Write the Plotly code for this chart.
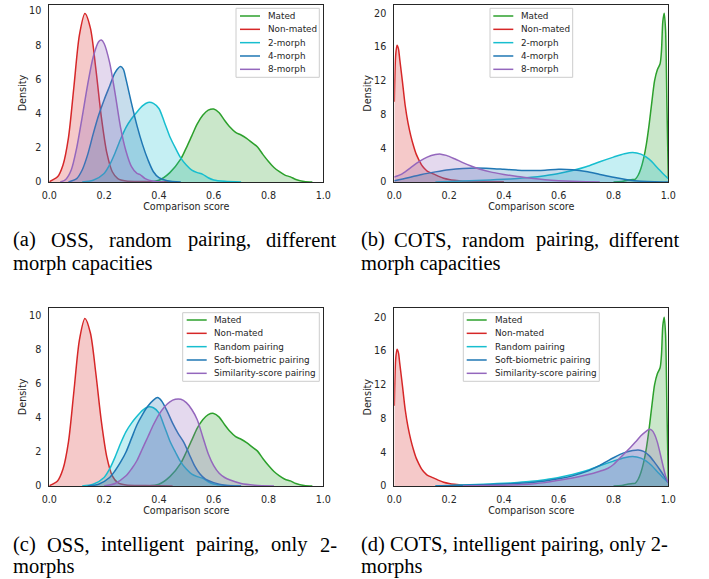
import plotly.graph_objects as go

W, H = 709, 579

# ---------------- data ----------------
score_ticks = [0.0, 0.2, 0.4, 0.6, 0.8, 1.0]
score_tick_labels = ["0.0", "0.2", "0.4", "0.6", "0.8", "1.0"]
oss_density_ticks = [0, 2, 4, 6, 8, 10]
cots_density_ticks = [0, 4, 8, 12, 16, 20]

names_capacity = ["Mated", "Non-mated", "2-morph", "4-morph", "8-morph"]
names_pairing = ["Mated", "Non-mated", "Random pairing", "Soft-biometric pairing", "Similarity-score pairing"]

# OSS comparator
oss_mated_x = [0.36, 0.40, 0.44, 0.48, 0.50, 0.52, 0.54, 0.56, 0.58, 0.60, 0.62, 0.64, 0.66, 0.68, 0.70,
               0.72, 0.74, 0.76, 0.78, 0.80, 0.82, 0.84, 0.86, 0.88, 0.90, 0.93, 0.96]
oss_mated_y = [0.0, 0.1, 0.55, 1.35, 2.0, 2.7, 3.4, 3.9, 4.2, 4.27, 4.05, 3.6, 3.2, 2.9, 2.75,
               2.55, 2.3, 2.05, 1.6, 1.2, 0.85, 0.6, 0.4, 0.3, 0.15, 0.03, 0.0]

oss_nonmated_x = [0.00, 0.03, 0.05, 0.07, 0.09, 0.11, 0.13, 0.15, 0.17, 0.19, 0.21, 0.23, 0.25, 0.28, 0.35, 0.45]
oss_nonmated_y = [0.02, 0.3, 1.0, 2.6, 5.6, 8.6, 9.85, 9.0, 6.6, 3.8, 1.7, 0.6, 0.2, 0.06, 0.03, 0.0]

oss_2morph_x = [0.12, 0.16, 0.20, 0.22, 0.24, 0.26, 0.28, 0.30, 0.32, 0.34, 0.36, 0.38, 0.40, 0.42, 0.44,
                0.46, 0.48, 0.50, 0.52, 0.54, 0.56, 0.58, 0.60, 0.64, 0.70]
oss_2morph_y = [0.0, 0.1, 0.5, 1.0, 1.7, 2.5, 3.2, 3.7, 4.1, 4.45, 4.65, 4.6, 4.3, 3.5, 2.65,
                2.0, 1.4, 1.0, 0.7, 0.55, 0.45, 0.25, 0.12, 0.04, 0.0]

oss_4morph_x = [0.07, 0.10, 0.12, 0.14, 0.16, 0.18, 0.20, 0.22, 0.24, 0.26, 0.27, 0.28, 0.30, 0.32, 0.34,
                0.36, 0.38, 0.40, 0.43, 0.48]
oss_4morph_y = [0.0, 0.2, 0.7, 1.6, 2.8, 3.9, 4.8, 5.6, 6.4, 6.75, 6.6, 6.0, 4.6, 3.3, 2.2,
                1.3, 0.6, 0.25, 0.07, 0.0]

oss_8morph_x = [0.04, 0.06, 0.08, 0.10, 0.12, 0.14, 0.16, 0.18, 0.19, 0.20, 0.22, 0.24, 0.26, 0.28, 0.30,
                0.32, 0.33, 0.35, 0.38, 0.42]
oss_8morph_y = [0.0, 0.15, 0.7, 2.0, 3.8, 5.7, 7.3, 8.2, 8.3, 8.1, 7.0, 5.2, 3.2, 1.8, 0.9,
                0.5, 0.45, 0.2, 0.05, 0.0]

oss_random_x = oss_2morph_x
oss_random_y = oss_2morph_y

oss_soft_x = [0.14, 0.18, 0.22, 0.24, 0.26, 0.28, 0.30, 0.32, 0.34, 0.36, 0.38, 0.395, 0.41, 0.43, 0.45,
              0.47, 0.49, 0.51, 0.53, 0.55, 0.57, 0.60, 0.64, 0.70]
oss_soft_y = [0.0, 0.1, 0.5, 0.9, 1.4, 2.0, 2.8, 3.6, 4.2, 4.7, 5.05, 5.2, 5.0, 4.4, 3.7,
              3.1, 2.6, 1.9, 1.2, 0.7, 0.4, 0.2, 0.05, 0.0]

oss_sim_x = [0.20, 0.24, 0.28, 0.30, 0.32, 0.34, 0.36, 0.38, 0.40, 0.42, 0.44, 0.46, 0.48, 0.50, 0.52,
             0.54, 0.56, 0.58, 0.60, 0.62, 0.64, 0.66, 0.70, 0.75, 0.82]
oss_sim_y = [0.0, 0.15, 0.6, 1.0, 1.5, 2.2, 2.9, 3.6, 4.2, 4.65, 4.95, 5.1, 5.1, 4.9, 4.5,
             3.9, 2.9, 1.9, 1.2, 0.75, 0.5, 0.35, 0.15, 0.05, 0.0]

# COTS comparator
cots_mated_x = [0.80, 0.83, 0.85, 0.87, 0.88, 0.89, 0.90, 0.91, 0.92, 0.93, 0.94, 0.95, 0.96, 0.97,
                0.975, 0.98, 0.985, 0.99, 0.995, 1.00]
cots_mated_y = [0.0, 0.05, 0.2, 0.3, 0.35, 0.8, 1.6, 2.8, 4.5, 6.8, 9.5, 12.0, 13.3, 14.0,
                15.5, 19.0, 20.0, 18.0, 9.0, 0.5]

cots_nonmated_x = [0.000, 0.005, 0.010, 0.015, 0.020, 0.030, 0.040, 0.050, 0.060, 0.070, 0.080, 0.090,
                   0.100, 0.110, 0.120, 0.140, 0.160, 0.180, 0.200, 0.220, 0.250, 0.300, 0.400]
cots_nonmated_y = [9.5, 15.0, 16.2, 15.8, 14.5, 11.8, 9.0, 7.0, 5.5, 4.3, 3.3, 2.6,
                   2.0, 1.6, 1.3, 1.0, 0.7, 0.45, 0.3, 0.2, 0.1, 0.05, 0.02]

cots_2morph_x = [0.15, 0.20, 0.25, 0.30, 0.35, 0.40, 0.45, 0.50, 0.55, 0.60, 0.65, 0.70, 0.75, 0.80,
                 0.84, 0.87, 0.90, 0.93, 0.96, 0.98, 1.00]
cots_2morph_y = [0.0, 0.05, 0.12, 0.18, 0.25, 0.32, 0.42, 0.55, 0.75, 1.0, 1.35, 1.8, 2.4, 2.95,
                 3.35, 3.5, 3.3, 2.7, 1.7, 1.0, 0.4]

cots_4morph_x = [0.00, 0.05, 0.10, 0.15, 0.20, 0.25, 0.30, 0.35, 0.40, 0.45, 0.50, 0.55, 0.60, 0.65,
                 0.70, 0.75, 0.80, 0.85, 0.90, 0.95, 1.00]
cots_4morph_y = [0.15, 0.5, 0.9, 1.2, 1.45, 1.6, 1.65, 1.6, 1.5, 1.4, 1.35, 1.4, 1.5, 1.45,
                 1.25, 0.9, 0.55, 0.28, 0.1, 0.02, 0.0]

cots_8morph_x = [0.00, 0.03, 0.06, 0.09, 0.12, 0.15, 0.17, 0.19, 0.22, 0.25, 0.28, 0.31, 0.35, 0.40,
                 0.45, 0.50, 0.55, 0.60, 0.65, 0.70, 0.75]
cots_8morph_y = [0.6, 1.0, 1.7, 2.4, 2.95, 3.25, 3.3, 3.15, 2.75, 2.3, 1.9, 1.55, 1.2, 0.9,
                 0.65, 0.45, 0.28, 0.16, 0.08, 0.03, 0.0]

cots_random_x = cots_2morph_x
cots_random_y = cots_2morph_y

cots_soft_x = [0.15, 0.20, 0.25, 0.30, 0.35, 0.40, 0.45, 0.50, 0.55, 0.60, 0.65, 0.70, 0.75, 0.80,
               0.84, 0.87, 0.89, 0.91, 0.93, 0.95, 0.97, 0.99, 1.00]
cots_soft_y = [0.0, 0.03, 0.08, 0.13, 0.18, 0.24, 0.32, 0.42, 0.6, 0.85, 1.2, 1.7, 2.45, 3.35,
               3.95, 4.2, 4.27, 4.1, 3.6, 2.8, 1.9, 0.9, 0.4]

cots_sim_x = [0.25, 0.30, 0.35, 0.40, 0.45, 0.50, 0.55, 0.60, 0.65, 0.70, 0.75, 0.78, 0.80, 0.82,
              0.84, 0.86, 0.88, 0.90, 0.92, 0.93, 0.94, 0.95, 0.96, 0.97, 0.98, 0.99, 1.00]
cots_sim_y = [0.0, 0.03, 0.06, 0.1, 0.16, 0.25, 0.4, 0.68, 0.95, 1.3, 1.75, 2.1, 2.55, 3.2,
              3.85, 4.5, 5.2, 5.95, 6.5, 6.72, 6.6, 6.1, 5.2, 3.9, 2.5, 1.2, 0.4]

# ---------------- styling ----------------
C_MATED = "#2ca02c"
C_NON = "#d62728"
C_CYAN = "#17becf"
C_BLUE = "#1f77b4"
C_PURPLE = "#9467bd"
colors = [C_MATED, C_NON, C_CYAN, C_BLUE, C_PURPLE]
TXT = "#262626"
SANS = "DejaVu Sans"
SERIF = "Liberation Serif"


def fx(p):
    return p / W


def fy(p):
    return 1 - p / H


def rgba(hexc, a):
    h = hexc.lstrip("#")
    r, g, b = int(h[0:2], 16), int(h[2:4], 16), int(h[4:6], 16)
    return f"rgba({r},{g},{b},{a})"


fig = go.Figure()

panels = [
    ("", [(oss_mated_x, oss_mated_y), (oss_nonmated_x, oss_nonmated_y), (oss_2morph_x, oss_2morph_y),
          (oss_4morph_x, oss_4morph_y), (oss_8morph_x, oss_8morph_y)], names_capacity),
    ("2", [(cots_mated_x, cots_mated_y), (cots_nonmated_x, cots_nonmated_y), (cots_2morph_x, cots_2morph_y),
           (cots_4morph_x, cots_4morph_y), (cots_8morph_x, cots_8morph_y)], names_capacity),
    ("3", [(oss_mated_x, oss_mated_y), (oss_nonmated_x, oss_nonmated_y), (oss_random_x, oss_random_y),
           (oss_soft_x, oss_soft_y), (oss_sim_x, oss_sim_y)], names_pairing),
    ("4", [(cots_mated_x, cots_mated_y), (cots_nonmated_x, cots_nonmated_y), (cots_random_x, cots_random_y),
           (cots_soft_x, cots_soft_y), (cots_sim_x, cots_sim_y)], names_pairing),
]

for suf, series, names in panels:
    for (xs, ys), col, nm in zip(series, colors, names):
        fig.add_trace(go.Scatter(
            x=xs, y=ys, name=nm, mode="lines",
            line=dict(color=col, width=1.5, shape="spline", smoothing=0.8),
            fill="tozeroy", fillcolor=rgba(col, 0.25),
            xaxis="x" + suf, yaxis="y" + suf, showlegend=False, hoverinfo="skip"))

# axes geometry (page pixels)
left_x = (49.3, 323.3)
right_x = (394.3, 668.3)
top_y = (4.7, 182.0)
bot_y = (308.3, 486.0)

geo = {
    "": (left_x, top_y, 10.37, oss_density_ticks, 22.0),
    "2": (right_x, top_y, 21.0, cots_density_ticks, 367.3),
    "3": (left_x, bot_y, 10.45, oss_density_ticks, 22.0),
    "4": (right_x, bot_y, 21.05, cots_density_ticks, 367.3),
}

axis_common = dict(showline=True, mirror=True, linecolor=TXT, linewidth=1.25, ticks="",
                   showgrid=False, zeroline=False, automargin=False,
                   tickfont=dict(family=SANS, size=9.6, color=TXT))

layout_axes = {}
for suf, ((x0, x1), (y0, y1), ymax, yt, ytitle_x) in geo.items():
    layout_axes["xaxis" + suf] = dict(
        domain=[fx(x0), fx(x1)], range=[0, 1], tickvals=score_ticks, ticktext=score_tick_labels,
        anchor="y" + suf, ticklabelstandoff=4,
        title=dict(text="Comparison score", font=dict(family=SANS, size=9.6, color=TXT), standoff=3),
        **axis_common)
    layout_axes["yaxis" + suf] = dict(
        domain=[fy(y1), fy(y0)], range=[0, ymax], tickvals=yt, ticktext=[str(v) for v in yt],
        anchor="x" + suf, ticklabelstandoff=5,
        **axis_common)
    # y-axis title, placed where matplotlib put it
    fig.add_annotation(xref="paper", yref="paper", x=fx(ytitle_x), y=fy((y0 + y1) / 2),
                       text="Density", textangle=-90, showarrow=False,
                       xanchor="center", yanchor="middle",
                       font=dict(family=SANS, size=9.6, color=TXT))

fig.update_layout(
    width=W, height=H, margin=dict(l=0, r=0, t=0, b=0, pad=0, autoexpand=False),
    paper_bgcolor="white", plot_bgcolor="white", showlegend=False,
    font=dict(family=SANS, color=TXT),
    **layout_axes)

# ---------------- legends (drawn like matplotlib's) ----------------
legend_specs = [
    (names_capacity, (236.0, 8.3, 319.3, 77.3), 240.0, 260.0, 265.7, 16.0),
    (names_capacity, (490.0, 8.3, 572.7, 77.3), 493.3, 513.3, 519.3, 16.0),
    (names_pairing, (182.7, 312.7, 319.3, 381.3), 186.7, 206.7, 211.7, 320.0),
    (names_pairing, (463.3, 312.7, 599.3, 381.3), 466.7, 486.7, 492.7, 320.0),
]
ROW = 13.33
for names, (bx0, by0, bx1, by1), lx0, lx1, tx, ry in legend_specs:
    fig.add_shape(type="rect", xref="paper", yref="paper",
                  x0=fx(bx0), x1=fx(bx1), y0=fy(by1), y1=fy(by0),
                  line=dict(color="#cccccc", width=1), fillcolor="rgba(255,255,255,0.8)", layer="above")
    for i, (nm, col) in enumerate(zip(names, colors)):
        yy = ry + i * ROW
        fig.add_shape(type="line", xref="paper", yref="paper",
                      x0=fx(lx0), x1=fx(lx1), y0=fy(yy), y1=fy(yy),
                      line=dict(color=col, width=1.5), layer="above")
        fig.add_annotation(xref="paper", yref="paper", x=fx(tx), y=fy(yy), text=nm,
                           showarrow=False, xanchor="left", yanchor="middle",
                           font=dict(family=SANS, size=8.8, color=TXT))

# ---------------- captions (justified like the paper) ----------------
CAP = 20.5


def cap(text, x, y, anchor):
    fig.add_annotation(xref="paper", yref="paper", x=fx(x), y=fy(y), text=text, showarrow=False,
                       xanchor=anchor, yanchor="middle", font=dict(family=SERIF, size=CAP, color="black"))


cap_a = [("(a)", 10.5, "left"), ("OSS,", 72.0, "center"), ("random", 140.4, "center"),
         ("pairing,", 219.1, "center"), ("different", 338.5, "right")]
cap_b = [("(b)", 358.5, "left"), ("COTS,", 423.3, "center"), ("random", 493.9, "center"),
         ("pairing,", 567.4, "center"), ("different", 681.5, "right")]
cap_c = [("(c)", 10.5, "left"), ("OSS,", 68.1, "center"), ("intelligent", 142.9, "center"),
         ("pairing,", 227.9, "center"), ("only", 289.6, "center"), ("2-", 338.5, "right")]

Y1_TOP, Y2_TOP = 240.0, 263.0
Y1_BOT, Y2_BOT = 544.5, 566.5
for t, x, a in cap_a:
    cap(t, x, Y1_TOP, a)
for t, x, a in cap_b:
    cap(t, x, Y1_TOP, a)
for t, x, a in cap_c:
    cap(t, x, Y1_BOT, a)
cap("(d) COTS, intelligent pairing, only 2-", 358.5, Y1_BOT, "left")
cap("morph capacities", 10.5, Y2_TOP, "left")
cap("morph capacities", 358.5, Y2_TOP, "left")
cap("morphs", 10.5, Y2_BOT, "left")
cap("morphs", 358.5, Y2_BOT, "left")

# remove the browser's default 8px body margin so the figure sits at the window origin
fig.write_html("out.html", config={"displayModeBar": False},
               post_script="document.body.style.margin='0';")
